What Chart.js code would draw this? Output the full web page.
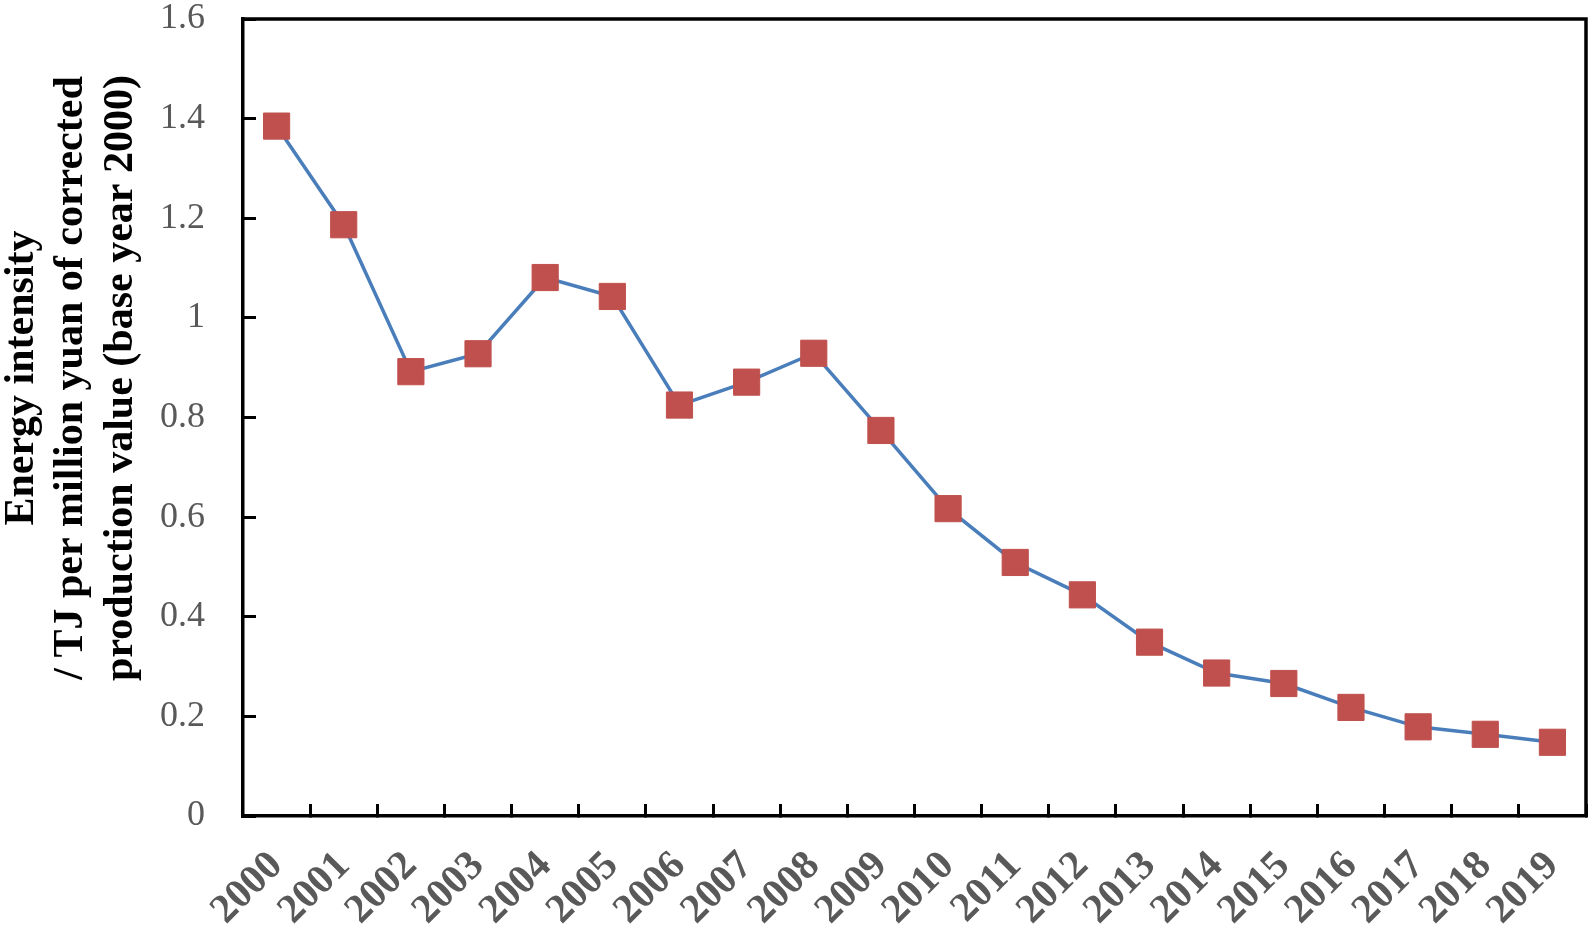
<!DOCTYPE html>
<html><head><meta charset="utf-8">
<script src="https://cdn.jsdelivr.net/npm/chart.js@4"></script>
<style>html,body{margin:0;padding:0;background:#fff;overflow:hidden}#wrap{width:1593px;height:932px}canvas{display:block}</style>
</head><body><div id="wrap"><canvas id="c" width="1593" height="932"></canvas></div>
<script>
const years = ['2000','2001','2002','2003','2004','2005','2006','2007','2008','2009','2010','2011','2012','2013','2014','2015','2016','2017','2018','2019'];
const energyIntensity = [1.385,1.187,0.892,0.928,1.081,1.043,0.825,0.871,0.929,0.774,0.617,0.509,0.444,0.349,0.287,0.266,0.218,0.179,0.164,0.148];
const yTicks = [0,0.2,0.4,0.6,0.8,1.0,1.2,1.4,1.6];
const yTitleLines = ['Energy intensity','/ TJ per million yuan of corrected','production value (base year 2000)'];

const framePlugin = {
  id: 'frame',
  afterDatasetsDraw(chart) {
    const a = chart.chartArea, ctx = chart.ctx;
    ctx.save();
    ctx.strokeStyle = '#000';
    ctx.lineWidth = 3.5;
    ctx.beginPath();
    ctx.moveTo(a.left, a.top);
    ctx.lineTo(a.right, a.top);
    ctx.lineTo(a.right, a.bottom);
    ctx.stroke();
    ctx.restore();
  }
};
const yTitlePlugin = {
  id: 'ytitle',
  afterDraw(chart) {
    const ctx = chart.ctx;
    const xs = [33, 82, 132];
    ctx.save();
    ctx.fillStyle = '#000';
    ctx.font = 'bold 42px "Liberation Serif"';
    ctx.textAlign = 'center';
    ctx.textBaseline = 'alphabetic';
    yTitleLines.forEach((t, i) => {
      ctx.save();
      ctx.translate(xs[i], 378);
      ctx.rotate(-Math.PI / 2);
      ctx.fillText(t, 0, 0);
      ctx.restore();
    });
    ctx.restore();
  }
};

new Chart(document.getElementById('c'), {
  type: 'line',
  data: {
    labels: years,
    datasets: [{
      data: energyIntensity,
      borderColor: '#4A7EBB',
      borderWidth: 3.5,
      tension: 0,
      pointStyle: 'rect',
      pointRadius: 18.5,
      pointHoverRadius: 18.5,
      pointBackgroundColor: '#C0504D',
      pointBorderColor: '#C0504D',
      pointBorderWidth: 1,
      clip: false
    }]
  },
  options: {
    responsive: false,
    animation: false,
    devicePixelRatio: 1,
    layout: { autoPadding: false, padding: { top: 19, right: 7, left: 0, bottom: 0 } },
    plugins: { legend: { display: false }, tooltip: { enabled: false } },
    scales: {
      x: {
        type: 'category',
        offset: true,
        grid: { display: true, offset: true, drawOnChartArea: false, tickLength: -12, tickWidth: 3, tickColor: '#000', color: 'rgba(0,0,0,0)' },
        border: { display: true, color: '#000', width: 3.5 },
        ticks: { autoSkip: false, minRotation: 45, maxRotation: 45, padding: 38, color: '#595959', font: { family: 'Liberation Serif', size: 41, weight: 'bold' } },
        afterFit(s) { s.height = 116; s.paddingLeft = 0; s.paddingRight = 0; }
      },
      y: {
        min: 0, max: 1.6,
        afterBuildTicks(s) { s.ticks = yTicks.map(v => ({ value: v })); },
        grid: { display: true, drawOnChartArea: false, tickLength: -13, tickWidth: 3, tickColor: '#000', color: 'rgba(0,0,0,0)' },
        border: { display: true, color: '#000', width: 3.5 },
        ticks: { padding: 51, color: '#595959', font: { family: 'Liberation Serif', size: 36 }, callback: v => String(+Number(v).toFixed(1)) },
        afterFit(s) { s.width = 243; s.paddingTop = 0; s.paddingBottom = 0; }
      }
    }
  },
  plugins: [framePlugin, yTitlePlugin]
});
</script>
</body></html>
